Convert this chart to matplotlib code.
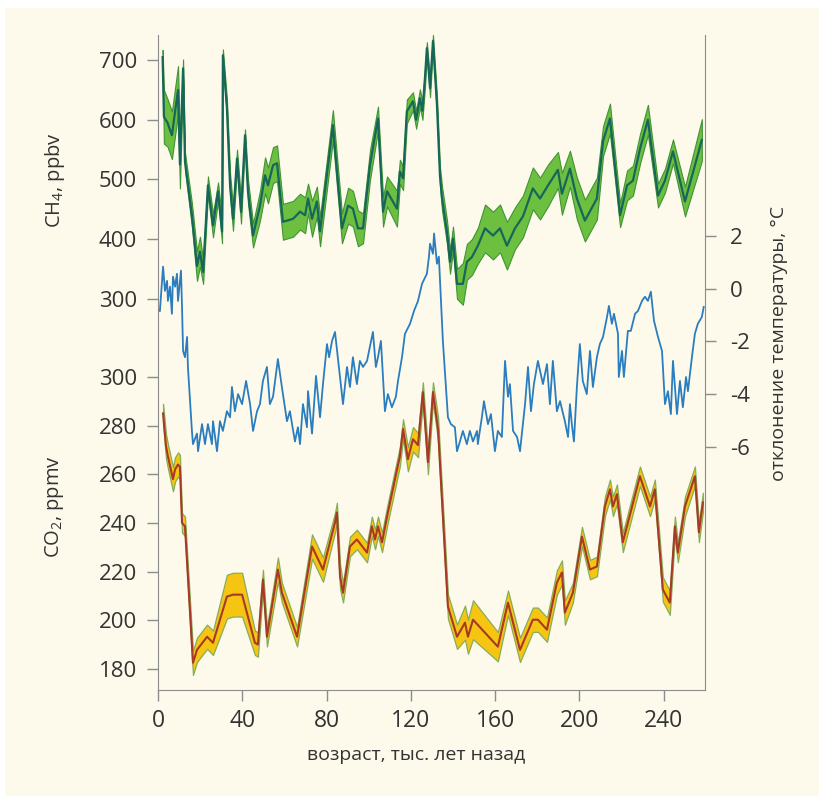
import matplotlib
matplotlib.use("Agg")
import matplotlib.pyplot as plt
from matplotlib.patches import Rectangle

plt.rcParams['font.family'] = ['Open Sans', 'DejaVu Sans']
plt.rcParams['mathtext.fontset'] = 'custom'
plt.rcParams['mathtext.rm'] = 'Open Sans'
plt.rcParams['axes.unicode_minus'] = False

# ---------------- data ----------------
ch4_age = [2.2, 2.8, 4.5, 6.6, 9.5, 10.4, 11.9, 12.8, 16.1, 18.5, 19.9, 21.4, 23.7, 26.1,
           28.5, 30.4, 30.8, 32.7, 34.2, 35.6, 37.5, 39.4, 41.3, 42.7, 45.1, 48.4, 50.8,
           52.2, 54.6, 56.5, 59.3, 64.1, 67.4, 69.8, 71.2, 73.1, 75.4, 76.9, 83.0, 87.3,
           90.2, 92.5, 94.9, 97.3, 100.6, 104.4, 106.8, 108.7, 113.4, 114.8, 116.3, 118.1,
           121.0, 122.5, 124.3, 125.5, 126.7, 127.6, 129.1, 130.5, 132.4, 133.8, 134.8,
           137.1, 138.6, 140.0, 141.9, 144.7, 146.6, 149.0, 151.8, 155.2, 159.0, 162.3,
           165.6, 169.4, 173.2, 177.9, 181.3, 185.1, 189.8, 191.7, 195.5, 198.8, 202.6,
           208.3, 211.2, 214.5, 219.3, 222.6, 225.4, 228.8, 232.5, 237.3, 240.6, 244.4,
           250.1, 258.1]
ch4_ppbv = [705, 605, 595, 574, 650, 525, 686, 530, 440, 355, 379, 345, 490, 423,
            480, 413, 708, 620, 490, 434, 535, 446, 574, 480, 406, 456, 507,
            490, 524, 527, 429, 434, 446, 440, 468, 434, 463, 413, 591, 418,
            456, 451, 418, 418, 524, 602, 446, 480, 451, 513, 502, 614,
            631, 600, 636, 615, 670, 720, 653, 732, 624, 507, 468,
            413, 362, 401, 325, 325, 362, 370, 389, 418, 406, 418,
            389, 418, 438, 485, 468, 490, 516, 476, 518, 468, 431,
            468, 564, 602, 440, 490, 498, 552, 600, 473, 498, 547,
            463, 566]
ch4_err = [12, 45, 40, 40, 40, 40, 15, 15, 20, 25, 25, 20, 15, 20,
           15, 20, 10, 15, 20, 20, 15, 20, 10, 20, 20, 25, 30,
           30, 30, 30, 30, 30, 30, 30, 25, 30, 25, 25, 25, 25,
           30, 30, 30, 25, 25, 20, 25, 25, 30, 20, 20, 20,
           15, 15, 15, 15, 15, 10, 15, 10, 15, 15, 20,
           20, 20, 20, 25, 35, 30, 30, 30, 40, 40, 40,
           40, 35, 35, 35, 35, 35, 30, 35, 30, 35, 35,
           35, 25, 25, 20, 25, 25, 25, 25, 20, 20, 20,
           25, 35]

co2_age = [2.4, 3.8, 4.7, 7.1, 8.1, 9.5, 10.4, 11.4, 12.8, 16.6, 18.5, 23.3, 26.1, 32.7,
           35.6, 39.9, 46.0, 47.4, 49.8, 51.7, 56.9, 58.8, 66.0, 73.1, 78.3, 84.0, 84.9,
           86.4, 87.8, 91.1, 94.4, 99.2, 101.5, 103.0, 104.4, 106.3, 109.1, 114.8, 116.3,
           118.6, 121.0, 123.4, 125.7, 128.1, 130.5, 132.9, 137.6, 139.5, 141.9, 145.7,
           147.1, 149.5, 161.3, 166.1, 171.8, 177.9, 180.3, 184.6, 189.3, 191.7, 193.1,
           196.9, 201.2, 205.0, 208.3, 212.1, 214.5, 215.9, 217.8, 220.6, 228.7, 233.5,
           235.8, 239.6, 242.9, 245.3, 246.7, 250.1, 254.8, 256.7, 258.6]
co2_ppmv = [285, 271.5, 267.4, 258, 262, 264, 263, 240, 238.6, 182.5, 187.8, 193.2, 190.7, 209.7,
            210.5, 210.5, 190.7, 190, 216.7, 193.2, 220.8, 211.3, 193.2, 230.3, 220.8, 240.2, 244.3,
            217.9, 211.3, 230.3, 233.2, 227.8, 238.6, 233.2, 238.6, 232, 244.3, 267.4, 278.6,
            266.2, 274.4, 272, 293.8, 265, 293.8, 278.6, 205.6, 200.2, 193.2, 199,
            193.2, 200.2, 189.1, 207.2, 187.8, 200.2, 200.2, 196.1, 215.5, 219.6, 203.1,
            211.3, 234.4, 220.8, 222.1, 246.8, 253.8, 246.8, 251.8, 232, 259.2, 246.8,
            253.8, 212.6, 207.2, 238.6, 227.8, 246.8, 259.2, 236.1, 248.4]
co2_err = [4, 5, 5, 5, 5, 5, 5, 4, 4, 5, 5, 5, 5, 9,
           9, 9, 5, 5, 4, 4, 5, 4, 4, 5, 5, 4, 4,
           5, 4, 4, 4, 4, 4, 4, 4, 4, 4, 4, 4,
           5, 5, 5, 4, 5, 4, 5, 5, 5, 5, 7,
           7, 8, 6, 5, 5, 5, 5, 5, 5, 5, 5,
           4, 4, 4, 4, 4, 4, 4, 4, 4, 4, 4,
           4, 5, 5, 4, 4, 4, 4, 4, 4]

t_age = [0.9, 2.4, 3.3, 4.3, 4.7, 5.7, 6.6, 7.1, 8.1, 9.0, 9.5, 10.9, 11.4, 11.9, 12.8, 13.8,
         14.2, 16.1, 16.6, 18.5, 19.0, 20.9, 22.3, 23.7, 25.6, 26.1, 28.0, 29.4, 30.8, 32.7,
         34.2, 35.1, 36.5, 38.0, 39.9, 41.8, 43.7, 45.1, 47.0, 48.4, 49.8, 51.7, 53.1, 54.6,
         56.9, 58.8, 61.2, 62.6, 63.6, 65.0, 66.4, 67.4, 68.8, 70.7, 71.2, 73.1, 75.0, 76.9,
         78.3, 80.2, 81.2, 82.6, 84.0, 86.4, 87.8, 89.7, 91.1, 92.5, 94.4, 95.8, 97.3, 99.2,
         102.0, 103.4, 104.4, 105.8, 107.7, 109.1, 111.0, 112.9, 113.9, 115.8, 117.2, 119.6,
         121.5, 123.4, 125.3, 127.6, 128.6, 129.1, 130.5, 131.0, 132.4, 133.3, 135.2, 137.6,
         139.0, 140.9, 141.9, 143.3, 144.7, 146.6, 148.0, 149.5, 151.4, 151.8, 153.7, 154.7,
         156.6, 158.0, 159.9, 161.3, 163.2, 164.7, 166.1, 167.0, 168.5, 170.4, 171.8, 173.2,
         174.2, 175.6, 177.0, 178.4, 180.3, 182.7, 184.6, 186.0, 187.4, 189.3, 190.8, 193.1,
         194.6, 195.5, 196.4, 197.4, 198.8, 200.2, 201.6, 203.5, 205.0, 206.4, 208.3, 209.7,
         211.2, 213.1, 214.0, 215.4, 216.4, 218.3, 218.7, 220.2, 221.1, 223.0, 224.4, 226.4,
         227.8, 229.7, 231.1, 232.5, 233.9, 235.4, 237.3, 239.2, 240.6, 242.0, 243.4, 244.4,
         246.3, 247.7, 249.1, 250.6, 251.5, 253.4, 254.8, 256.2, 258.1, 259.0]
t_dev = [-0.84, 0.84, -0.08, 0.3, -0.46, 0.08, -0.95, 0.46, 0.08, 0.57, -0.46, 0.69, -0.69, -2.36, -2.6, -1.83,
         -2.97, -5.4, -5.9, -5.5, -6.17, -5.14, -5.9, -5.14, -5.9, -5.03, -6.17, -5.03, -5.4, -4.65,
         -4.88, -3.73, -4.65, -4.0, -4.38, -3.5, -4.38, -5.4, -4.65, -4.38, -3.5, -2.97, -4.38, -4.1,
         -2.67, -3.73, -5.03, -4.65, -5.14, -5.8, -5.26, -5.9, -4.38, -5.26, -3.89, -5.5, -3.31, -4.88,
         -3.62, -2.1, -2.6, -1.98, -1.64, -3.35, -4.38, -2.97, -3.73, -2.6, -3.62, -2.74, -2.97, -2.74,
         -1.64, -2.97, -2.6, -1.98, -4.65, -4.0, -4.5, -4.1, -3.5, -2.6, -1.71, -1.33,
         -0.84, -0.46, 0.19, 0.57, 1.22, 1.71, 1.33, 2.1, 0.95, 1.22, -1.98, -4.88,
         -5.14, -5.26, -6.17, -5.8, -5.4, -5.9, -5.4, -5.8, -5.4, -5.9, -4.88, -4.27,
         -5.14, -4.76, -6.17, -5.4, -5.63, -2.74, -4.1, -3.62, -5.4, -5.63, -6.17, -5.14,
         -4.38, -2.97, -4.65, -3.62, -2.74, -3.62, -2.86, -4.38, -2.74, -4.65, -4.27, -5.03,
         -5.63, -4.38, -5.14, -5.8, -3.73, -2.1, -3.5, -4.0, -2.36, -3.73, -2.6, -2.1,
         -1.83, -1.07, -0.65, -1.33, -0.95, -1.71, -3.35, -2.36, -3.35, -1.6, -1.6, -0.95,
         -0.84, -0.46, -0.3, -0.46, -0.11, -1.22, -1.83, -2.36, -4.38, -3.89, -4.76, -2.74,
         -4.76, -3.5, -4.5, -3.35, -3.89, -2.6, -1.71, -1.33, -1.07, -0.69]

x_ticks = [0, 40, 80, 120, 160, 200, 240]
ch4_ticks = [300, 400, 500, 600, 700]
co2_ticks = [180, 200, 220, 240, 260, 280, 300]
t_ticks = [2, 0, -2, -4, -6]

# ---------------- styling ----------------
BG = '#fdfaeb'
SPINE = '#8c8c8c'
TXT = '#333333'
W, H = 820, 796

fig = plt.figure(figsize=(W / 100, H / 100), dpi=100, facecolor='white')
fig.patches.append(Rectangle((5 / W, 0), 1 - 5 / W, 1 - 8 / H, transform=fig.transFigure,
                             facecolor=BG, edgecolor='none', zorder=-10))

left, right, bottom, top = 158 / W, 705 / W, 1 - 690 / H, 1 - 35 / H
ax = fig.add_axes([left, bottom, right - left, top - bottom])
ax.set_facecolor('none')
ax_ch4 = ax.twinx()
ax_t = ax.twinx()

# CO2 (primary, left)
lo = [v - e for v, e in zip(co2_ppmv, co2_err)]
hi = [v + e for v, e in zip(co2_ppmv, co2_err)]
ax.fill_between(co2_age, lo, hi, facecolor='#f6c512', edgecolor='#86ad5c', linewidth=0.9, zorder=2)
ax.plot(co2_age, co2_ppmv, color='#a63a26', lw=1.5, zorder=3)
ax.set_ylim(171.3, 440.6)
ax.set_yticks(co2_ticks)

# CH4 (twin, ticks on left)
lo = [v - e for v, e in zip(ch4_ppbv, ch4_err)]
hi = [v + e for v, e in zip(ch4_ppbv, ch4_err)]
ax_ch4.fill_between(ch4_age, lo, hi, facecolor='#6dbf40', edgecolor='#3f9436', linewidth=0.8, zorder=2)
ax_ch4.plot(ch4_age, ch4_ppbv, color='#17665a', lw=1.6, zorder=3)
ax_ch4.set_ylim(-355.5, 742)
ax_ch4.yaxis.set_ticks_position('left')
ax_ch4.yaxis.set_label_position('left')
ax_ch4.set_yticks(ch4_ticks)

# temperature (twin, right)
ax_t.plot(t_age, t_dev, color='#2a7dbf', lw=1.3, zorder=3)
ax_t.set_ylim(-15.24, 9.64)
ax_t.set_yticks(t_ticks)
ax_t.set_yticklabels([str(v) for v in t_ticks])

for a in (ax, ax_ch4, ax_t):
    a.set_xlim(0, 259.6)
    for s in a.spines.values():
        s.set_visible(False)
    a.tick_params(colors=SPINE, labelcolor=TXT, labelsize=16, length=8, width=1)

ax.spines['left'].set_visible(True)
ax.spines['bottom'].set_visible(True)
ax.spines['left'].set_color(SPINE)
ax.spines['bottom'].set_color(SPINE)
ax_t.spines['right'].set_visible(True)
ax_t.spines['right'].set_color(SPINE)
ax.set_xticks(x_ticks)
ax.tick_params(axis='x', pad=6, labelsize=16.5)
ax.tick_params(axis='y', pad=7)
ax_ch4.tick_params(axis='y', pad=7)
ax_t.tick_params(axis='y', pad=10)

fig.text(55 / W, 1 - 180 / H, r'CH$\mathregular{_4}$, ppbv', rotation=90, ha='center', va='center',
         fontsize=14.5, color=TXT)
fig.text(55 / W, 1 - 507 / H, r'CO$\mathregular{_2}$, ppmv', rotation=90, ha='center', va='center',
         fontsize=14.5, color=TXT)
fig.text(779 / W, 1 - 343 / H, 'отклонение температуры, °C', rotation=90, ha='center', va='center',
         fontsize=14, color=TXT)
fig.text(416 / W, 1 - 755 / H, 'возраст, тыс. лет назад', ha='center', va='center',
         fontsize=14, color=TXT)

fig.savefig('out.png', dpi=100, facecolor='white')
